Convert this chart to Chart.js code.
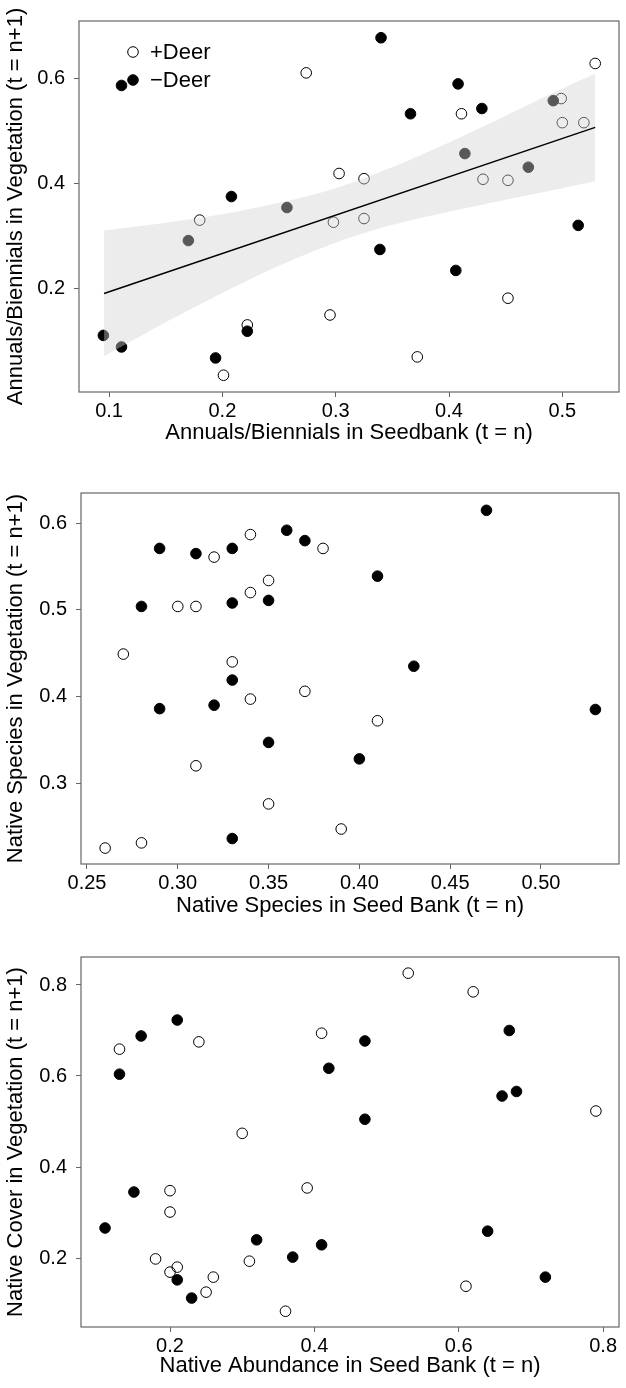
<!DOCTYPE html>
<html>
<head>
<meta charset="utf-8">
<script src="https://cdn.jsdelivr.net/npm/chart.js@4.4.1/dist/chart.umd.min.js"></script>
<style>
  body { margin: 0; background: #fff; width: 626px; height: 1388px; position: relative; overflow: hidden; }
  canvas { position: absolute; left: 0; }
</style>
</head>
<body>
<canvas id="c1" width="626" height="455" style="top:0px"></canvas>
<canvas id="c2" width="626" height="470" style="top:455px"></canvas>
<canvas id="c3" width="626" height="463" style="top:925px"></canvas>
<script>
// --- panel 1: annuals / biennials ---
const p1OpenX = [0.274, 0.303, 0.180, 0.298, 0.529, 0.411, 0.499, 0.500, 0.519, 0.430, 0.452, 0.325, 0.325, 0.295, 0.222, 0.201, 0.452, 0.372];
const p1OpenY = [0.611, 0.419, 0.330, 0.326, 0.629, 0.533, 0.562, 0.516, 0.516, 0.408, 0.406, 0.409, 0.333, 0.149, 0.130, 0.034, 0.181, 0.069];
const p1FillX = [0.111, 0.208, 0.340, 0.408, 0.366, 0.429, 0.514, 0.339, 0.406, 0.194, 0.222, 0.095, 0.111, 0.257, 0.170, 0.414, 0.470, 0.492];
const p1FillY = [0.587, 0.375, 0.678, 0.590, 0.533, 0.543, 0.320, 0.274, 0.234, 0.067, 0.118, 0.110, 0.088, 0.354, 0.291, 0.457, 0.431, 0.558];
const p1FitX = [0.0956, 0.529];
const p1FitY = [0.190, 0.507];
const p1BandX = [0.0956, 0.15, 0.2, 0.25, 0.3, 0.35, 0.4, 0.45, 0.5, 0.529];
const p1BandLo = [0.070, 0.135, 0.191, 0.243, 0.287, 0.321, 0.346, 0.369, 0.391, 0.404];
const p1BandHi = [0.310, 0.325, 0.341, 0.363, 0.391, 0.431, 0.478, 0.529, 0.581, 0.610];
const p1XTicks = [0.1, 0.2, 0.3, 0.4, 0.5];
const p1XLabels = ['0.1', '0.2', '0.3', '0.4', '0.5'];
const p1YTicks = [0.2, 0.4, 0.6];
const p1YLabels = ['0.2', '0.4', '0.6'];

// --- panel 2: native species ---
const p2OpenX = [0.28, 0.26, 0.27, 0.30, 0.31, 0.32, 0.34, 0.34, 0.35, 0.38, 0.33, 0.34, 0.37, 0.31, 0.35, 0.39, 0.41];
const p2OpenY = [0.231, 0.225, 0.449, 0.504, 0.504, 0.561, 0.587, 0.520, 0.534, 0.571, 0.440, 0.397, 0.406, 0.320, 0.276, 0.247, 0.372];
const p2FillX = [0.29, 0.31, 0.33, 0.36, 0.37, 0.28, 0.33, 0.35, 0.47, 0.41, 0.43, 0.53, 0.40, 0.33, 0.32, 0.29, 0.35, 0.33];
const p2FillY = [0.571, 0.565, 0.571, 0.592, 0.580, 0.504, 0.508, 0.511, 0.615, 0.539, 0.435, 0.385, 0.328, 0.419, 0.390, 0.386, 0.347, 0.236];
const p2XTicks = [0.25, 0.30, 0.35, 0.40, 0.45, 0.50];
const p2XLabels = ['0.25', '0.30', '0.35', '0.40', '0.45', '0.50'];
const p2YTicks = [0.3, 0.4, 0.5, 0.6];
const p2YLabels = ['0.3', '0.4', '0.5', '0.6'];

// --- panel 3: native cover ---
const p3OpenX = [0.13, 0.24, 0.30, 0.41, 0.53, 0.62, 0.79, 0.20, 0.20, 0.18, 0.20, 0.21, 0.26, 0.25, 0.31, 0.36, 0.39, 0.61];
const p3OpenY = [0.659, 0.675, 0.474, 0.694, 0.826, 0.785, 0.523, 0.348, 0.301, 0.198, 0.169, 0.180, 0.158, 0.125, 0.193, 0.083, 0.354, 0.138];
const p3FillX = [0.13, 0.16, 0.21, 0.42, 0.47, 0.47, 0.67, 0.66, 0.68, 0.11, 0.15, 0.21, 0.23, 0.32, 0.37, 0.41, 0.64, 0.72];
const p3FillY = [0.604, 0.688, 0.723, 0.617, 0.677, 0.505, 0.700, 0.556, 0.566, 0.266, 0.345, 0.152, 0.112, 0.240, 0.202, 0.229, 0.259, 0.158];
const p3XTicks = [0.2, 0.4, 0.6, 0.8];
const p3XLabels = ['0.2', '0.4', '0.6', '0.8'];
const p3YTicks = [0.2, 0.4, 0.6, 0.8];
const p3YLabels = ['0.2', '0.4', '0.6', '0.8'];

Chart.defaults.font.family = '"Liberation Sans", Arial, Helvetica, sans-serif';
Chart.defaults.color = '#000';

const pts = (xs, ys) => xs.map((x, i) => ({ x: x, y: ys[i] }));

// box round the plot area
const frame = {
    id: 'frame',
    afterDraw(chart) {
        const a = chart.chartArea, ctx = chart.ctx;
        ctx.save();
        ctx.strokeStyle = '#666';
        ctx.lineWidth = 1.2;
        ctx.strokeRect(a.left, a.top, a.right - a.left, a.bottom - a.top);
        ctx.restore();
    }
};

// +Deer / -Deer key inside the first panel
const deerKey = {
    id: 'deerKey',
    afterDraw(chart) {
        const a = chart.chartArea, ctx = chart.ctx;
        const rows = [['+Deer', false], ['\u2212Deer', true]];
        ctx.save();
        ctx.font = '22px "Liberation Sans", Arial, sans-serif';
        ctx.textBaseline = 'middle';
        rows.forEach((r, i) => {
            const y = a.top + 31 + i * 28;
            ctx.beginPath();
            ctx.arc(a.left + 54, y, 5.3, 0, Math.PI * 2);
            ctx.lineWidth = 1;
            ctx.strokeStyle = '#000';
            if (r[1]) { ctx.fillStyle = '#000'; ctx.fill(); }
            ctx.stroke();
            ctx.fillStyle = '#000';
            ctx.fillText(r[0], a.left + 71, y + 1);
        });
        ctx.restore();
    }
};

function makePanel(id, p) {
    const datasets = [
        { data: pts(p.openX, p.openY), pointRadius: 5.3, pointBorderWidth: 1, pointBorderColor: '#000', pointBackgroundColor: 'rgba(0,0,0,0)', order: 2 },
        { data: pts(p.fillX, p.fillY), pointRadius: 5.3, pointBorderWidth: 1, pointBorderColor: '#000', pointBackgroundColor: '#000', order: 2 }
    ];
    if (p.bandX) {
        datasets.push({ data: pts(p.bandX, p.bandLo), showLine: true, pointRadius: 0, borderWidth: 0, fill: false, tension: 0.3, order: 1 });
        datasets.push({ data: pts(p.bandX, p.bandHi), showLine: true, pointRadius: 0, borderWidth: 0, fill: '-1', tension: 0.3, backgroundColor: 'rgba(210,210,210,0.42)', order: 1 });
        datasets.push({ data: pts(p.fitX, p.fitY), showLine: true, pointRadius: 0, borderWidth: 1.5, borderColor: '#000', fill: false, order: 0 });
    }
    const tickFont = { size: 20 };
    const titleFont = { size: 22 };
    return new Chart(document.getElementById(id), {
        type: 'scatter',
        data: { datasets: datasets },
        options: {
            responsive: false,
            animation: false,
            events: [],
            layout: { padding: { top: p.top, right: p.right, left: 0, bottom: 0 } },
            plugins: { legend: { display: false }, tooltip: { enabled: false } },
            scales: {
                x: {
                    type: 'linear', min: p.xMin, max: p.xMax,
                    afterBuildTicks: s => { s.ticks = p.xTicks.map(v => ({ value: v })); },
                    afterFit: s => { s.height = p.xh; },
                    ticks: { font: tickFont, padding: 2, autoSkip: false, maxRotation: 0, callback: (v, i) => p.xLabels[i] },
                    grid: { drawOnChartArea: false, tickLength: 5, tickColor: '#666' },
                    border: { display: false },
                    title: { display: true, text: p.xTitle, font: titleFont, padding: { top: 0, bottom: p.xtp } }
                },
                y: {
                    type: 'linear', min: p.yMin, max: p.yMax,
                    afterBuildTicks: s => { s.ticks = p.yTicks.map(v => ({ value: v })); },
                    afterFit: s => { s.width = p.left; },
                    ticks: { font: tickFont, padding: 9, autoSkip: false, callback: (v, i) => p.yLabels[i] },
                    grid: { drawOnChartArea: false, tickLength: 5, tickColor: '#666' },
                    border: { display: false },
                    title: { display: true, text: p.yTitle, font: titleFont, padding: { top: 3, bottom: 0 } }
                }
            }
        },
        plugins: p.key ? [frame, deerKey] : [frame]
    });
}

makePanel('c1', {
    openX: p1OpenX, openY: p1OpenY, fillX: p1FillX, fillY: p1FillY,
    bandX: p1BandX, bandLo: p1BandLo, bandHi: p1BandHi, fitX: p1FitX, fitY: p1FitY,
    xMin: 0.0735, xMax: 0.550, yMin: 0.002, yMax: 0.710,
    xTicks: p1XTicks, xLabels: p1XLabels, yTicks: p1YTicks, yLabels: p1YLabels,
    xTitle: 'Annuals/Biennials in Seedbank (t = n)',
    yTitle: 'Annuals/Biennials in Vegetation (t = n+1)',
    top: 20, right: 7, left: 79, xh: 63, xtp: 9, key: true
});

makePanel('c2', {
    openX: p2OpenX, openY: p2OpenY, fillX: p2FillX, fillY: p2FillY,
    xMin: 0.2467, xMax: 0.543, yMin: 0.2066, yMax: 0.635,
    xTicks: p2XTicks, xLabels: p2XLabels, yTicks: p2YTicks, yLabels: p2YLabels,
    xTitle: 'Native Species in Seed Bank (t = n)',
    yTitle: 'Native Species in Vegetation (t = n+1)',
    top: 38, right: 7, left: 81, xh: 61, xtp: 6
});

makePanel('c3', {
    openX: p3OpenX, openY: p3OpenY, fillX: p3FillX, fillY: p3FillY,
    xMin: 0.0767, xMax: 0.822, yMin: 0.0484, yMax: 0.8615,
    xTicks: p3XTicks, xLabels: p3XLabels, yTicks: p3YTicks, yLabels: p3YLabels,
    xTitle: 'Native Abundance in Seed Bank (t = n)',
    yTitle: 'Native Cover in Vegetation (t = n+1)',
    top: 32, right: 7, left: 81, xh: 61, xtp: 9
});
</script>
</body>
</html>
